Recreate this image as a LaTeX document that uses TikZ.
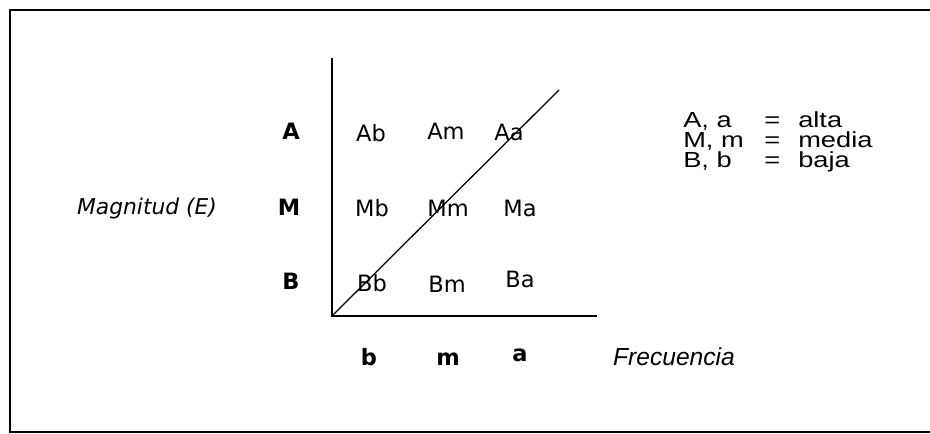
\documentclass[tikz,border=0pt]{standalone}
\usepackage{fontspec}
\setmainfont{DejaVu Sans}
\newfontfamily\legendfont{Liberation Sans}[FakeStretch=1.25]
\newfontfamily\frecfont{Liberation Sans}
\usetikzlibrary{positioning}
\tikzset{
  cell/.style={inner sep=0pt, font=\fontsize{16}{18}\selectfont},
  axislabel/.style={inner sep=0pt, font=\fontsize{16}{18}\bfseries\selectfont},
  title/.style={inner sep=0pt, font=\fontsize{15.5}{18}\itshape\selectfont},
  legend/.style={inner sep=0pt, anchor=base west, font=\legendfont\fontsize{15.5}{18}\selectfont},
  axis/.style={line width=1.1pt},
}
\begin{document}
\begin{tikzpicture}[x=0.025cm, y=-0.025cm]
\useasboundingbox (0,0) rectangle (930,434);

% marco abierto a la derecha
\draw[line width=1.6pt] (935,10) -- (10,10) -- (10,432) -- (935,432);

% ejes
\coordinate (o) at (332,316);
\coordinate (ytop) at (332,58);
\coordinate (xend) at (597,316);
\coordinate (dend) at (559,90);
\draw[axis] (ytop) -- (o) -- (xend);
\draw[line width=0.9pt] (o) -- (dend);

% filas: magnitud
\node[axislabel] (rA) at (291,131) {A};
\node[axislabel] (rM) at (289,207) {M};
\node[axislabel] (rB) at (291,281) {B};

% columnas: frecuencia
\node[axislabel] (cb) at (369,357) {b};
\node[axislabel] (cm) at (448,359) {m};
\node[axislabel] (ca) at (520,355) {a};

% celdas
\node[cell] (Ab) at (371,133) {Ab};
\node[cell] (Am) at (446,131) {Am};
\node[cell] (Aa) at (509,132) {Aa};
\node[cell] (Mb) at (372,208) {Mb};
\node[cell] (Mm) at (448,208) {Mm};
\node[cell] (Ma) at (520,208) {Ma};
\node[cell] (Bb) at (372,283) {Bb};
\node[cell] (Bm) at (447,284) {Bm};
\node[cell] (Ba) at (520,279) {Ba};

% titulos de los ejes
\node[title] (mag) at (147,208) {Magnitud (E)};
\node[title, font=\frecfont\fontsize{17.5}{20}\itshape\selectfont] (frec) at (674,357) {Frecuencia};

% leyenda
\node[legend] (la) at (683,127) {A, a};
\node[legend] (lm) at (683,147) {M, m};
\node[legend] (lb) at (683,167) {B, b};
\node[legend] (ea) at (764,127) {=};
\node[legend] (em) at (764,147) {=};
\node[legend] (eb) at (764,167) {=};
\node[legend] (va) at (798,127) {alta};
\node[legend] (vm) at (798,147) {media};
\node[legend] (vb) at (798,167) {baja};

\end{tikzpicture}
\end{document}
